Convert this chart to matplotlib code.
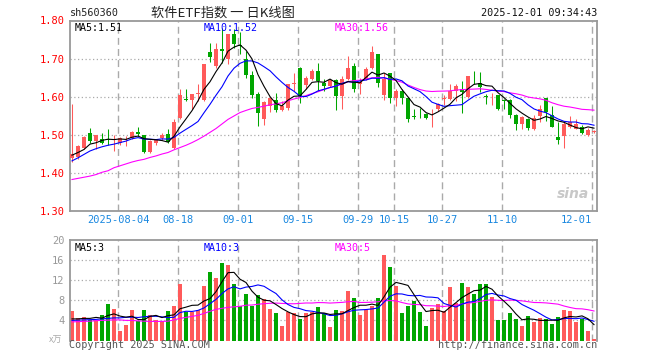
import numpy as np
import matplotlib
matplotlib.use("Agg")
import matplotlib.pyplot as plt

# ---------------- data ----------------
opens = [1.438, 1.440, 1.466, 1.505, 1.483, 1.488, 1.488, 1.487, 1.479, 1.490,
         1.490, 1.508, 1.498, 1.455, 1.478, 1.491, 1.501, 1.465, 1.545, 1.594,
         1.590, 1.607, 1.590, 1.716, 1.681, 1.726, 1.700, 1.764, 1.735, 1.700,
         1.656, 1.606, 1.542, 1.574, 1.590, 1.565, 1.571, 1.634, 1.676, 1.630,
         1.646, 1.668, 1.635, 1.628, 1.644, 1.602, 1.647, 1.681, 1.632, 1.646,
         1.676, 1.711, 1.604, 1.661, 1.597, 1.615, 1.597, 1.548, 1.566, 1.554,
         1.564, 1.568, 1.593, 1.593, 1.615, 1.621, 1.600, 1.655, 1.635, 1.601,
         1.603, 1.603, 1.591, 1.590, 1.551, 1.527, 1.540, 1.514, 1.549, 1.595,
         1.551, 1.494, 1.496, 1.521, 1.516, 1.521, 1.498, 1.508]
highs = [1.580, 1.472, 1.497, 1.517, 1.500, 1.504, 1.514, 1.500, 1.493, 1.496,
         1.510, 1.520, 1.500, 1.485, 1.488, 1.503, 1.516, 1.542, 1.619, 1.621,
         1.607, 1.634, 1.686, 1.740, 1.740, 1.779, 1.764, 1.778, 1.769, 1.720,
         1.668, 1.612, 1.589, 1.600, 1.609, 1.589, 1.633, 1.661, 1.677, 1.653,
         1.672, 1.688, 1.647, 1.646, 1.646, 1.653, 1.707, 1.688, 1.650, 1.679,
         1.732, 1.712, 1.663, 1.663, 1.619, 1.619, 1.600, 1.567, 1.571, 1.558,
         1.567, 1.584, 1.604, 1.632, 1.632, 1.641, 1.655, 1.668, 1.665, 1.606,
         1.609, 1.604, 1.593, 1.593, 1.554, 1.549, 1.545, 1.551, 1.577, 1.596,
         1.574, 1.532, 1.536, 1.549, 1.542, 1.525, 1.518, 1.512]
lows = [1.428, 1.436, 1.462, 1.477, 1.463, 1.476, 1.472, 1.457, 1.472, 1.470,
        1.488, 1.497, 1.451, 1.451, 1.474, 1.487, 1.478, 1.463, 1.540, 1.589,
        1.567, 1.589, 1.588, 1.691, 1.676, 1.687, 1.685, 1.729, 1.712, 1.648,
        1.597, 1.523, 1.525, 1.560, 1.560, 1.562, 1.565, 1.615, 1.584, 1.619,
        1.644, 1.615, 1.615, 1.624, 1.565, 1.567, 1.644, 1.612, 1.606, 1.644,
        1.672, 1.624, 1.591, 1.582, 1.574, 1.580, 1.533, 1.540, 1.545, 1.540,
        1.521, 1.562, 1.577, 1.591, 1.589, 1.556, 1.597, 1.632, 1.612, 1.580,
        1.577, 1.566, 1.567, 1.545, 1.512, 1.516, 1.512, 1.512, 1.532, 1.536,
        1.519, 1.475, 1.465, 1.518, 1.514, 1.501, 1.496, 1.505]
closes = [1.448, 1.470, 1.494, 1.483, 1.498, 1.479, 1.486, 1.489, 1.491, 1.492,
          1.508, 1.501, 1.455, 1.482, 1.486, 1.498, 1.480, 1.533, 1.604, 1.592,
          1.606, 1.609, 1.685, 1.703, 1.725, 1.720, 1.764, 1.738, 1.732, 1.657,
          1.604, 1.556, 1.586, 1.597, 1.565, 1.574, 1.632, 1.636, 1.602, 1.649,
          1.668, 1.641, 1.628, 1.644, 1.602, 1.647, 1.676, 1.619, 1.638, 1.672,
          1.716, 1.637, 1.647, 1.597, 1.615, 1.597, 1.540, 1.546, 1.564, 1.543,
          1.566, 1.580, 1.595, 1.615, 1.628, 1.611, 1.654, 1.653, 1.626, 1.600,
          1.604, 1.568, 1.589, 1.551, 1.527, 1.547, 1.518, 1.545, 1.568, 1.560,
          1.521, 1.486, 1.527, 1.532, 1.527, 1.504, 1.512, 1.510]
volumes = [5.8, 4.5, 4.6, 4.0, 4.1, 5.0, 7.2, 6.2, 1.8, 3.0,
           6.0, 3.9, 6.0, 5.1, 4.0, 3.8, 5.8, 6.8, 11.2, 5.6,
           5.6, 6.0, 10.9, 13.6, 12.5, 15.5, 15.0, 11.2, 6.8, 9.2,
           6.9, 9.0, 8.2, 6.2, 5.5, 2.9, 5.7, 5.5, 4.2, 5.4,
           5.7, 6.6, 5.5, 2.7, 6.0, 5.8, 9.8, 8.5, 5.0, 6.0,
           6.9, 8.5, 17.0, 14.6, 10.8, 5.5, 6.9, 7.8, 5.7, 2.9,
           6.5, 7.2, 5.8, 10.7, 7.5, 11.5, 10.7, 9.2, 11.2, 11.2,
           8.7, 4.0, 4.0, 5.5, 4.2, 2.9, 4.9, 3.6, 4.4, 4.2,
           3.2, 4.7, 6.0, 5.8, 3.7, 4.3, 1.8, 0.2]

# moving-average values at the left edge (their windows reach before the chart)
ma5_head = [1.446, 1.453, 1.461, 1.475]
ma10_head = [1.431, 1.439, 1.448, 1.457, 1.463, 1.468, 1.472, 1.475, 1.479]
ma30_head = [1.382, 1.385, 1.388, 1.391, 1.395, 1.401, 1.405, 1.413, 1.418, 1.423,
             1.428, 1.432, 1.435, 1.440, 1.444, 1.449, 1.453, 1.460, 1.466, 1.472,
             1.479, 1.487, 1.496, 1.506, 1.516, 1.528, 1.540, 1.549, 1.558]
vma5_head = [4.3, 4.3, 4.4, 4.4]
vma10_head = [4.0, 4.05, 4.1, 4.15, 4.2, 4.3, 4.4, 4.5, 4.5]
vma30_head = [3.7, 3.75, 3.8, 3.85, 3.95, 4.0, 4.05, 4.1, 4.1, 4.0,
              4.0, 3.9, 3.85, 3.8, 3.8, 3.8, 3.85, 4.1, 4.4, 4.6,
              4.8, 5.0, 5.4, 5.8, 6.2, 6.4, 6.6, 6.7, 6.8]

date_labels = ["2025-08-04", "08-18", "09-01", "09-15", "09-29", "10-15", "10-27", "11-10", "12-01"]
date_index = [8, 18, 28, 38, 48, 54, 62, 72, 87]
price_ticks = [1.30, 1.40, 1.50, 1.60, 1.70, 1.80]
vol_ticks = [4, 8, 12, 16, 20]
price_legend = ["MA5:1.51", "MA10:1.52", "MA30:1.56"]
vol_legend = ["MA5:3", "MA10:3", "MA30:5"]
title = "软件ETF指数 一 日K线图"
code = "sh560360"
stamp = "2025-12-01 09:34:43"


def moving_average(vals, n, head):
    vals = np.asarray(vals, dtype=float)
    out = np.empty(len(vals))
    out[:len(head)] = head
    for k in range(len(head), len(vals)):
        out[k] = vals[k - n + 1:k + 1].mean()
    return out


O = np.array(opens); H = np.array(highs); L = np.array(lows); C = np.array(closes)
V = np.array(volumes)
x = np.arange(len(C))
up = C >= O
RED = "#ff5a5a"
GREEN = "#00a600"
colors = np.where(up, RED, GREEN)

ma5 = moving_average(C, 5, ma5_head)
ma10 = moving_average(C, 10, ma10_head)
ma30 = moving_average(C, 30, ma30_head)
vma5 = moving_average(V, 5, vma5_head)
vma10 = moving_average(V, 10, vma10_head)
vma30 = moving_average(V, 30, vma30_head)

MONO = "DejaVu Sans Mono"
W, Hh = 660, 360
fig = plt.figure(figsize=(6.6, 3.6), dpi=100)
fig.patch.set_facecolor("white")

xl = (-2 / 6, 525 / 6)
ax = fig.add_axes([70 / W, 1 - 210.7 / Hh, 527 / W, 190.2 / Hh])
axv = fig.add_axes([70 / W, 1 - 340.5 / Hh, 527 / W, 100.5 / Hh])

GRID = "#aaaaaa"
SPINE = "#999999"
for a in (ax, axv):
    a.set_xlim(*xl)
    for s in a.spines.values():
        s.set_color(SPINE)
        s.set_linewidth(1.3)
    for xi in date_index:
        a.axvline(xi - 0.33, color=GRID, lw=1.0, ls=(0, (5, 3)), zorder=0)

# ---- price panel ----
ax.set_ylim(1.30, 1.80)
for p in price_ticks[1:-1]:
    ax.axhline(p, color=GRID, lw=0.9, ls=(0, (1, 2)), zorder=0)
body_bottom = np.minimum(O, C)
body_h = np.maximum(np.abs(C - O), 0.0016)
ax.vlines(x, L, H, colors=colors, lw=0.75, zorder=2)
ax.bar(x, body_h, bottom=body_bottom, width=0.8, color=colors, lw=0, zorder=3)
ax.plot(x, ma30, color="#ff00ff", lw=0.8, zorder=4)
ax.plot(x, ma10, color="#0000ff", lw=0.8, zorder=4)
ax.plot(x, ma5, color="black", lw=0.8, zorder=5)
ax.set_yticks(price_ticks)
ax.set_yticklabels([f"{p:.2f}" for p in price_ticks], color="#ff0000",
                   fontfamily=MONO, fontsize=7.5)
# label positions: centred on the grid lines, the last one kept inside the frame
label_pos = [i - 0.33 for i in date_index]
label_pos[-1] = date_index[-1] - 3.0
ax.set_xticks(label_pos)
ax.set_xticklabels(date_labels, color="#1a88e0", fontfamily=MONO, fontsize=7.5)
ax.tick_params(length=0, pad=4)
ax.tick_params(axis="x", pad=3)

ax.text(0.008, 0.985, price_legend[0], transform=ax.transAxes, color="black",
        fontfamily=MONO, fontsize=7.2, va="top", ha="left")
ax.text((204 - 70) / 527, 0.985, price_legend[1], transform=ax.transAxes, color="#0000ff",
        fontfamily=MONO, fontsize=7.2, va="top", ha="left")
ax.text((335 - 70) / 527, 0.985, price_legend[2], transform=ax.transAxes, color="#ff00ff",
        fontfamily=MONO, fontsize=7.2, va="top", ha="left")
ax.text(0.985, 0.05, "sina", transform=ax.transAxes, color="#c8c8c8",
        fontsize=10, fontweight="bold", style="italic", ha="right", va="bottom",
        family="DejaVu Sans")

# ---- volume panel ----
axv.set_ylim(0, 20)
for v in vol_ticks[:-1]:
    axv.axhline(v, color=GRID, lw=0.9, ls=(0, (1, 2)), zorder=0)
axv.bar(x, V, width=0.8, color=colors, lw=0, zorder=2)
axv.plot(x, vma30, color="#ff00ff", lw=0.8, zorder=3)
axv.plot(x, vma10, color="#0000ff", lw=0.8, zorder=3)
axv.plot(x, vma5, color="black", lw=0.8, zorder=4)
axv.spines["bottom"].set_visible(False)
axv.set_yticks(vol_ticks)
axv.set_yticklabels([str(v) for v in vol_ticks], color="#999999",
                    fontfamily=MONO, fontsize=7.5)
axv.set_xticks([])
axv.tick_params(length=0, pad=4)
axv.text(0.008, 0.975, vol_legend[0], transform=axv.transAxes, color="black",
         fontfamily=MONO, fontsize=7.2, va="top", ha="left")
axv.text((204 - 70) / 527, 0.975, vol_legend[1], transform=axv.transAxes, color="#0000ff",
         fontfamily=MONO, fontsize=7.2, va="top", ha="left")
axv.text((335 - 70) / 527, 0.975, vol_legend[2], transform=axv.transAxes, color="#ff00ff",
         fontfamily=MONO, fontsize=7.2, va="top", ha="left")

# ---- header / footer texts ----
fig.text(70 / W, 1 - 13.5 / Hh, code, fontfamily=MONO, fontsize=7.3, color="#222222",
         ha="left", va="center")
fig.text(223 / W, 1 - 13 / Hh, title, family=["Noto Sans CJK SC", "DejaVu Sans"],
         fontsize=9.5, color="#222222", ha="center", va="center")
fig.text(597 / W, 1 - 12.5 / Hh, stamp, fontfamily=MONO, fontsize=7.3, color="#111111",
         ha="right", va="center")
fig.text(69 / W, 1 - 345.5 / Hh, "Copyright 2025 SINA.COM", fontfamily=MONO, fontsize=7.3,
         color="#555555", ha="left", va="center")
fig.text(597 / W, 1 - 345.5 / Hh, "http://finance.sina.com.cn", fontfamily=MONO,
         fontsize=7.3, color="#555555", ha="right", va="center")
fig.text(56 / W, 1 - 340 / Hh, "x万", family=["Noto Sans CJK SC", "DejaVu Sans"],
         fontsize=6.5, color="#aaaaaa", ha="center", va="center", style="italic")

fig.savefig("out.png", dpi=100, facecolor="white")
